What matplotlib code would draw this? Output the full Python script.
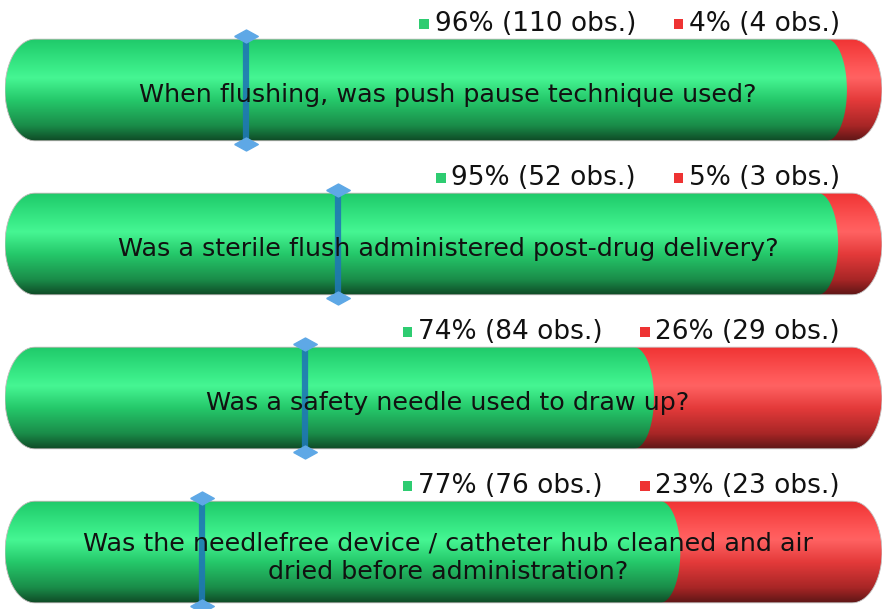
import numpy as np
import matplotlib.pyplot as plt
from matplotlib.path import Path
from matplotlib.patches import PathPatch, Rectangle
from matplotlib.colors import LinearSegmentedColormap
from matplotlib.offsetbox import HPacker, TextArea, DrawingArea, AnnotationBbox

questions = [
    "When flushing, was push pause technique used?",
    "Was a sterile flush administered post-drug delivery?",
    "Was a safety needle used to draw up?",
    "Was the needlefree device / catheter hub cleaned and air\ndried before administration?",
]
yes_pct = [96, 95, 74, 77]
no_pct = [4, 5, 26, 23]
yes_obs = [110, 52, 84, 76]
no_obs = [4, 3, 29, 23]
marker_pct = [27.5, 38, 34.2, 22.5]

FS = 18.3         # question text
LFS = 19          # labels above bars
H = 0.33          # half height of a bar (row units)
RX = 3.4          # end cap radius (percent units)
RB = 2.3          # radius of the green/red boundary

green_cm = LinearSegmentedColormap.from_list("g", [
    (0.0, "#1fca6a"), (0.3, "#3cee8a"), (0.38, "#46f693"),
    (0.6, "#25c86a"), (0.85, "#1a8c49"), (1.0, "#0f4a26")])
red_cm = LinearSegmentedColormap.from_list("r", [
    (0.0, "#f03434"), (0.3, "#ff5a5a"), (0.38, "#ff6262"),
    (0.6, "#e43a3a"), (0.85, "#a82626"), (1.0, "#5e1616")])


def capsule(xa, xb, yc, rl, rr):
    t1 = np.linspace(np.pi / 2, 3 * np.pi / 2, 40)
    t2 = np.linspace(-np.pi / 2, np.pi / 2, 40)
    xs = np.concatenate([xa + rl + rl * np.cos(t1), xb - rr + rr * np.cos(t2)])
    ys = np.concatenate([yc + H * np.sin(t1), yc + H * np.sin(t2)])
    verts = np.column_stack([xs, ys])
    return Path(np.vstack([verts, verts[:1]]), closed=True)


def sq(c):
    d = DrawingArea(7, 7, 0, 0)
    d.add_artist(Rectangle((0, 0), 7, 7, facecolor=c, edgecolor="none"))
    return d


fig = plt.figure(figsize=(8.85, 6.09), dpi=100)
ax = fig.add_axes([5 / 885, 0, 877 / 885, 1])
ax.set_xlim(0, 100)
ax.set_ylim(3.37, -0.584)
ax.axis("off")

grad = np.linspace(0, 1, 256).reshape(-1, 1)
diamond = [(-1, 0), (0, 0.55), (1, 0), (0, -0.55), (-1, 0)]

for i, q in enumerate(questions):
    yc = i
    # red full capsule, then green on top
    for xb, rr, cm in [(100, RX, red_cm), (yes_pct[i], RB, green_cm)]:
        path = capsule(0, xb, yc, RX, rr)
        patch = PathPatch(path, facecolor="none", edgecolor="none")
        ax.add_patch(patch)
        im = ax.imshow(grad, cmap=cm, extent=(0, 100, yc + H, yc - H),
                       aspect="auto", interpolation="bilinear", zorder=1)
        im.set_clip_path(patch)
    ax.add_patch(PathPatch(capsule(0, 100, yc, RX, RX), facecolor="none",
                           edgecolor="#c4c4c4", lw=0.6, zorder=2))

    ax.text(50.5, yc + 0.035, q, ha="center", va="center", fontsize=FS,
            color="#111111", zorder=4, linespacing=1.25)

    # blue marker
    m = marker_pct[i]
    ax.plot([m, m], [yc - H - 0.02, yc + H + 0.02], color="#1f78b4",
            lw=4.5, alpha=0.9, zorder=3, solid_capstyle="butt")
    ax.plot([m, m], [yc - H - 0.02, yc + H + 0.02], ls="none",
            marker=diamond, markersize=17, color="#5ea8e6", zorder=3)

    # labels above bar
    tp = dict(fontsize=LFS, color="#111111")
    box = HPacker(children=[
        sq("#2ecc71"), TextArea(f"{yes_pct[i]}% ({yes_obs[i]} obs.)", textprops=tp),
        DrawingArea(19, 1),
        sq("#ee3333"), TextArea(f"{no_pct[i]}% ({no_obs[i]} obs.)", textprops=tp),
    ], align="center", pad=0, sep=4)
    ab = AnnotationBbox(box, (95.2, yc - H - 0.1), box_alignment=(1, 0.5),
                        frameon=False, pad=0)
    ax.add_artist(ab)

fig.savefig("out.png", dpi=100)
